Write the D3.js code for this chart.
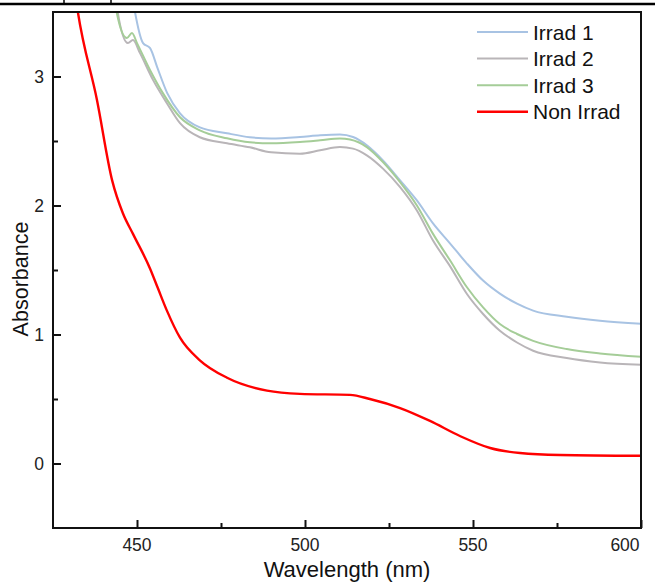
<!DOCTYPE html>
<html>
<head>
<meta charset="utf-8">
<script src="https://cdn.jsdelivr.net/npm/d3@7"></script>
<style>
  body { margin: 0; background: #fff; }
  svg { display: block; font-family: 'Liberation Sans', Arial, sans-serif; }
</style>
</head>
<body>
<svg id="chart" width="655" height="582"></svg>
<script>
// series values (wavelength in nm, absorbance)
const irrad1Wl = [448.8, 449.4, 451.8, 453.9, 456.0, 459.0, 462.8, 468.7, 476.8, 483.6, 489.9, 498.5, 504.5, 510.4, 514.3, 518.4, 523.2, 528.3, 533.3, 538.1, 543.2, 548.2, 553.0, 558.0, 563.1, 567.9, 577.9, 587.8, 600]
const irrad1Abs = [3.59, 3.5, 3.259, 3.22, 3.073, 2.871, 2.715, 2.606, 2.56, 2.529, 2.52, 2.531, 2.544, 2.55, 2.531, 2.467, 2.35, 2.195, 2.039, 1.861, 1.705, 1.55, 1.418, 1.317, 1.239, 1.185, 1.138, 1.107, 1.084]

const irrad2Wl = [443.8, 444.3, 447.3, 448.8, 450.9, 454.8, 458.9, 462.8, 468.7, 476.8, 483.6, 489.9, 498.5, 504.5, 510.4, 514.3, 518.4, 523.2, 528.3, 533.3, 538.1, 543.2, 548.2, 553.0, 558.0, 563.1, 567.9, 577.9, 587.8, 600]
const irrad2Abs = [3.6, 3.492, 3.259, 3.282, 3.181, 2.972, 2.793, 2.638, 2.529, 2.482, 2.451, 2.412, 2.402, 2.428, 2.453, 2.441, 2.389, 2.286, 2.143, 1.962, 1.728, 1.528, 1.314, 1.159, 1.029, 0.938, 0.874, 0.817, 0.783, 0.765]

const irrad3Wl = [443.5, 444.0, 447.0, 448.5, 450.0, 453.9, 457.7, 462.8, 468.7, 476.8, 483.6, 489.9, 498.5, 504.5, 510.4, 513.4, 518.4, 523.2, 528.3, 533.3, 538.1, 543.2, 548.2, 553.0, 558.0, 563.1, 567.9, 577.9, 587.8, 600]
const irrad3Abs = [3.6, 3.492, 3.298, 3.337, 3.259, 3.049, 2.871, 2.684, 2.583, 2.521, 2.49, 2.482, 2.492, 2.505, 2.519, 2.511, 2.453, 2.337, 2.181, 2.0, 1.78, 1.573, 1.366, 1.21, 1.081, 1.004, 0.951, 0.887, 0.853, 0.827]

const nonIrradWl = [431, 432.4, 438.1, 442.6, 445.8, 448.8, 453.9, 456.2, 458.9, 462.8, 468.7, 476.8, 488.7, 498.5, 513.4, 519.3, 528.3, 537.2, 546.1, 555.1, 564, 575.9, 600]
const nonIrradAbs = [3.75, 3.5, 2.816, 2.195, 1.94, 1.78, 1.51, 1.36, 1.185, 0.975, 0.80, 0.665, 0.565, 0.54, 0.532, 0.50, 0.43, 0.33, 0.213, 0.12, 0.081, 0.066, 0.06]

const seriesNames = ['Irrad 1', 'Irrad 2', 'Irrad 3', 'Non Irrad']
const seriesColors = ['#a8c3e3', '#b9b5b8', '#a5cd98', '#ff0000']

const xTicks = [450, 500, 550, 600]
const xMinorTicks = [475, 525, 575]
const yTicks = [0, 1, 2, 3]
const yMinorTicks = [0.5, 1.5, 2.5]

const series = [
  { name: seriesNames[0], wl: irrad1Wl, abs: irrad1Abs },
  { name: seriesNames[1], wl: irrad2Wl, abs: irrad2Abs },
  { name: seriesNames[2], wl: irrad3Wl, abs: irrad3Abs },
  { name: seriesNames[3], wl: nonIrradWl, abs: nonIrradAbs }
].map((s, i) => ({ ...s, color: seriesColors[i], points: s.wl.map((w, j) => [w, s.abs[j]]) }))

const svg = d3.select('#chart')
const plotLeft = 53
const plotRight = 641
const plotTop = 12
const plotBottom = 528

const x = d3.scaleLinear().domain([425, 600]).range([plotLeft, plotRight])
const y = d3.scaleLinear().domain([-0.5, 3.5]).range([plotBottom, plotTop])

// leftover bits of the panel above (cropped figure)
svg.append('line').attr('x1', 0).attr('x2', 655).attr('y1', 4).attr('y2', 4)
  .attr('stroke', '#000').attr('stroke-width', 2.5)
svg.append('line').attr('x1', 64).attr('x2', 64).attr('y1', 0).attr('y2', 4)
  .attr('stroke', '#000').attr('stroke-width', 1.5)
svg.append('line').attr('x1', 111).attr('x2', 111).attr('y1', 0).attr('y2', 4)
  .attr('stroke', '#000').attr('stroke-width', 1.5)

svg.append('clipPath').attr('id', 'plotclip')
  .append('rect').attr('x', plotLeft).attr('y', plotTop)
  .attr('width', plotRight - plotLeft).attr('height', plotBottom - plotTop)

const line = d3.line()
  .curve(d3.curveMonotoneX)
  .x(d => x(d[0]))
  .y(d => y(d[1]))

svg.append('g').attr('clip-path', 'url(#plotclip)')
  .selectAll('path')
  .data(series)
  .join('path')
  .attr('d', d => line(d.points))
  .attr('fill', 'none')
  .attr('stroke', d => d.color)
  .attr('stroke-width', d => d.name === 'Non Irrad' ? 2.4 : 2)
  .attr('stroke-linejoin', 'round')

// frame
svg.append('rect')
  .attr('x', plotLeft).attr('y', plotTop)
  .attr('width', plotRight - plotLeft).attr('height', plotBottom - plotTop)
  .attr('fill', 'none').attr('stroke', '#111').attr('stroke-width', 2)

// x axis, ticks pointing inward
const xAxis = svg.append('g').attr('transform', `translate(0,${plotBottom})`)
xAxis.call(d3.axisTop(x).tickValues(xTicks).tickSize(8).tickFormat(''))
xAxis.append('g').call(d3.axisTop(x).tickValues(xMinorTicks).tickSize(5).tickFormat(''))
xAxis.selectAll('.domain').remove()
xAxis.selectAll('line').attr('stroke', '#111').attr('stroke-width', 2)

svg.append('g').selectAll('text')
  .data(xTicks)
  .join('text')
  .attr('x', d => d === 600 ? x(d) - 16 : x(d))
  .attr('y', 551)
  .attr('text-anchor', 'middle')
  .attr('font-size', 17.5)
  .attr('fill', '#222')
  .text(d => d)

// y axis, ticks pointing inward
const yAxis = svg.append('g').attr('transform', `translate(${plotLeft},0)`)
yAxis.call(d3.axisRight(y).tickValues(yTicks).tickSize(8).tickFormat(''))
yAxis.append('g').call(d3.axisRight(y).tickValues(yMinorTicks).tickSize(5).tickFormat(''))
yAxis.selectAll('.domain').remove()
yAxis.selectAll('line').attr('stroke', '#111').attr('stroke-width', 2)

svg.append('g').selectAll('text')
  .data(yTicks)
  .join('text')
  .attr('x', 44)
  .attr('y', d => y(d) + 6)
  .attr('text-anchor', 'end')
  .attr('font-size', 17.5)
  .attr('fill', '#222')
  .text(d => d)

svg.append('text')
  .attr('transform', 'translate(28,279) rotate(-90)')
  .attr('text-anchor', 'middle')
  .attr('font-size', 21.5)
  .attr('fill', '#111')
  .text('Absorbance')

svg.append('text')
  .attr('x', 347).attr('y', 577)
  .attr('text-anchor', 'middle')
  .attr('font-size', 22)
  .attr('fill', '#111')
  .text('Wavelength (nm)')

// legend
const legend = svg.append('g').attr('transform', 'translate(477,32)')
const rows = legend.selectAll('g')
  .data(series)
  .join('g')
  .attr('transform', (d, i) => `translate(0,${i * 26.6})`)
rows.append('line')
  .attr('x1', 0).attr('x2', 51)
  .attr('stroke', d => d.color)
  .attr('stroke-width', d => d.name === 'Non Irrad' ? 2.4 : 2)
rows.append('text')
  .attr('x', 56).attr('y', 7.5)
  .attr('font-size', 21)
  .attr('fill', '#111')
  .text(d => d.name)
</script>
</body>
</html>
